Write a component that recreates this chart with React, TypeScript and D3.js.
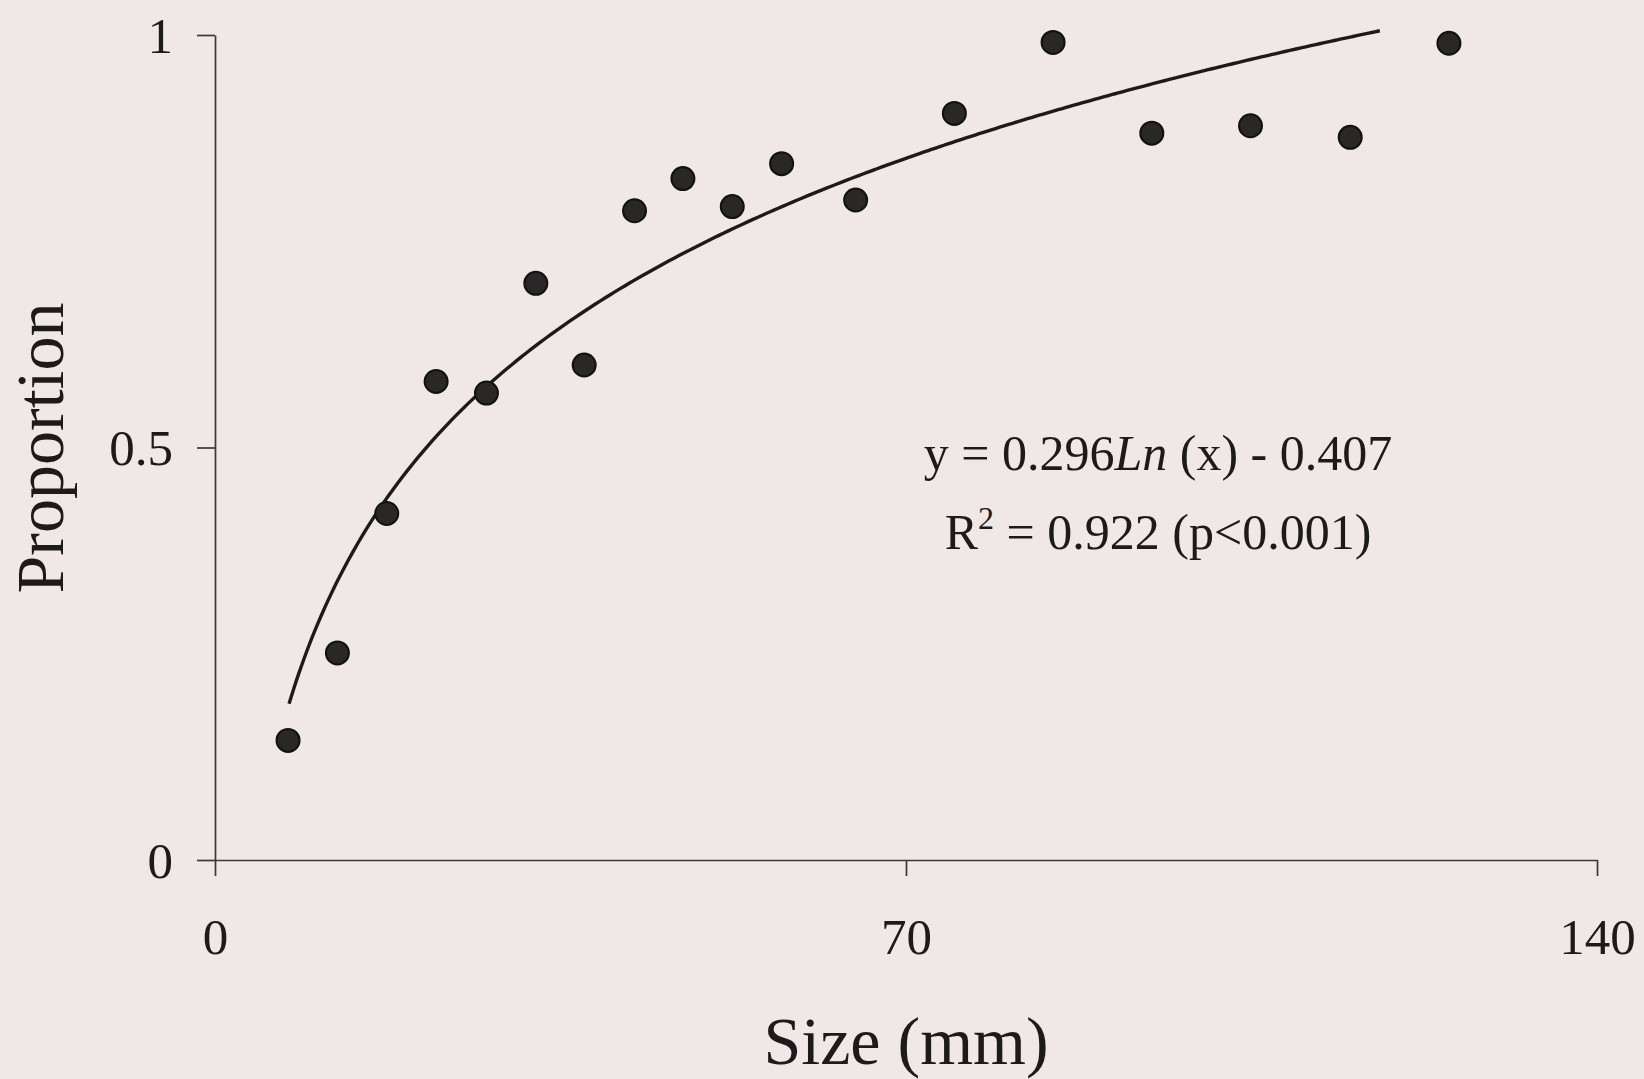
import React, { useEffect, useRef } from "react";
import * as d3 from "d3";

// size class midpoints (mm) and proportion
const sizes = [7.4, 12.4, 17.4, 22.4, 27.5, 32.5, 37.4, 42.5, 47.4, 52.4, 57.4, 64.9, 74.9, 84.9, 94.9, 104.9, 115.0, 125.0];
const proportions = [0.145, 0.251, 0.42, 0.58, 0.566, 0.699, 0.6, 0.787, 0.826, 0.792, 0.844, 0.8, 0.905, 0.991, 0.881, 0.89, 0.876, 0.99];

const xTicks = [0, 70, 140];
const yTicks = [0, 0.5, 1];

// log fit printed on the chart: y = 0.296 Ln(x) - 0.407
const fitSlope = 0.296;
const fitIntercept = -0.407;
const fitFrom = 7.5;
const fitTo = 118;

const width = 1644;
const height = 1079;
const font = "'Liberation Serif', 'Times New Roman', serif";
const ink = "#1c1a1a";

export default function App() {
    const svgRef = useRef<SVGSVGElement>(null);

    useEffect(() => {
        document.body.style.margin = "0";
        const svg = d3.select(svgRef.current);
        svg.selectAll("*").remove();

        const x = d3.scaleLinear().domain([0, 140]).range([215, 1597]);
        const y = d3.scaleLinear().domain([0, 1]).range([860, 35]);

        svg.append("rect").attr("width", width).attr("height", height).attr("fill", "#efe8e6");

        // y axis
        const gy = svg
            .append("g")
            .attr("transform", `translate(${x(0)},0)`)
            .call(d3.axisLeft(y).tickValues(yTicks).tickSize(18).tickSizeOuter(0).tickPadding(24).tickFormat(d3.format("")));
        gy.select(".domain").attr("stroke", "#3a3838").attr("stroke-width", 1.7);
        gy.selectAll(".tick line").attr("stroke", "#3a3838").attr("stroke-width", 1.7);
        gy.selectAll(".tick text")
            .attr("font-family", font)
            .attr("font-size", 51)
            .attr("fill", ink)
            .attr("dy", "0.34em");

        // x axis
        const gx = svg
            .append("g")
            .attr("transform", `translate(0,${y(0)})`)
            .call(d3.axisBottom(x).tickValues(xTicks).tickSize(16).tickSizeOuter(0).tickFormat(d3.format("")));
        gx.select(".domain").attr("stroke", "#3a3838").attr("stroke-width", 1.7);
        gx.selectAll(".tick line").attr("stroke", "#3a3838").attr("stroke-width", 1.7);
        gx.selectAll(".tick text")
            .attr("font-family", font)
            .attr("font-size", 51)
            .attr("fill", ink)
            .attr("y", 94)
            .attr("dy", 0);

        // axis titles
        svg.append("text")
            .attr("transform", `translate(63,448) rotate(-90)`)
            .attr("text-anchor", "middle")
            .attr("font-family", font)
            .attr("font-size", 68)
            .attr("fill", ink)
            .text("Proportion");

        svg.append("text")
            .attr("x", x(70))
            .attr("y", 1064)
            .attr("text-anchor", "middle")
            .attr("font-family", font)
            .attr("font-size", 68)
            .attr("fill", ink)
            .text("Size (mm)");

        // fitted curve
        const fitXs = d3.range(fitFrom, fitTo + 0.01, 0.5);
        const line = d3
            .line<number>()
            .x(d => x(d))
            .y(d => y(fitSlope * Math.log(d) + fitIntercept))
            .curve(d3.curveMonotoneX);
        svg.append("path")
            .attr("d", line(fitXs))
            .attr("fill", "none")
            .attr("stroke", ink)
            .attr("stroke-width", 3.4);

        // points
        svg.append("g")
            .selectAll("circle")
            .data(sizes.map((s, i) => ({ s, p: proportions[i] })))
            .enter()
            .append("circle")
            .attr("cx", d => x(d.s))
            .attr("cy", d => y(d.p))
            .attr("r", 11.5)
            .attr("fill", "#2a2727")
            .attr("stroke", "#111")
            .attr("stroke-width", 2);

        // equation
        const eq = svg.append("text")
            .attr("x", 1158)
            .attr("y", 470)
            .attr("text-anchor", "middle")
            .attr("font-family", font)
            .attr("font-size", 50)
            .attr("fill", ink);
        eq.append("tspan").text("y = 0.296");
        eq.append("tspan").attr("font-style", "italic").text("Ln");
        eq.append("tspan").text(" (x) - 0.407");

        const r2 = svg.append("text")
            .attr("x", 1158)
            .attr("y", 549)
            .attr("text-anchor", "middle")
            .attr("font-family", font)
            .attr("font-size", 50)
            .attr("fill", ink);
        r2.append("tspan").text("R");
        r2.append("tspan").attr("font-size", 32).attr("dy", -20).text("2");
        r2.append("tspan").attr("dy", 20).text(" = 0.922 (p<0.001)");
    }, []);

    return <svg ref={svgRef} width={width} height={height} style={{ display: "block" }}></svg>;
}
